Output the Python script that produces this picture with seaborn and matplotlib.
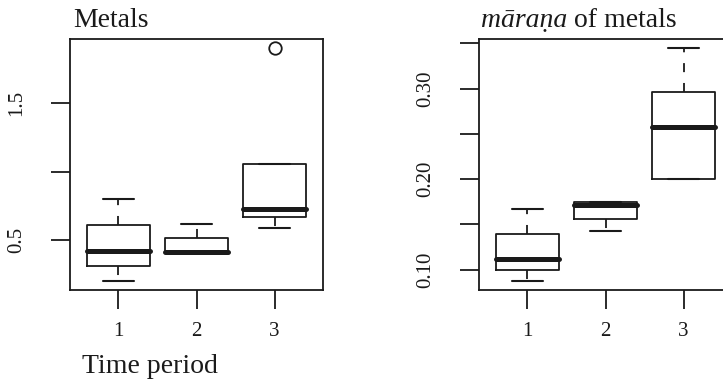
# metals_boxplots.py

import pandas as pd
import numpy as np
import matplotlib
matplotlib.use("Agg")
import matplotlib.pyplot as plt
import seaborn as sns

# Values per time period
periods = ['1', '2', '3']
metals_p1 = [0.201, 0.309, 0.419, 0.608, 0.799]
metals_p2 = [0.410, 0.410, 0.410, 0.515, 0.618]
metals_p3 = [0.588, 0.667, 0.667, 0.730, 0.730, 1.059, 1.059, 1.059, 1.904]
marana_p1 = [0.0879, 0.0996, 0.1114, 0.139, 0.167]
marana_p2 = [0.143, 0.156, 0.1717, 0.1747, 0.175]
marana_p3 = [0.200, 0.200, 0.2574, 0.2967, 0.3445]

metals_ticks = [0.5, 1.0, 1.5]
metals_ticklabels = ['0.5', '', '1.5']
marana_ticks = [0.10, 0.15, 0.20, 0.25, 0.30, 0.35]
marana_ticklabels = ['0.10', '', '0.20', '', '0.30', '']


def long_df(groups):
    rows = []
    for p, vals in zip(periods, groups):
        for v in vals:
            rows.append({'period': p, 'value': v})
    return pd.DataFrame(rows)


metals_df = long_df([metals_p1, metals_p2, metals_p3])
marana_df = long_df([marana_p1, marana_p2, marana_p3])

sns.set_style('ticks')
plt.rcParams['font.family'] = ['Liberation Serif', 'DejaVu Serif']

ink = '#1a1a1a'
lw = 1.3
fs_tick = 15
fs_title = 20

fig = plt.figure(figsize=(7.23, 3.84), dpi=100)
ax1 = fig.add_axes([70 / 723, 94 / 384, 253 / 723, 251 / 384])
ax2 = fig.add_axes([479 / 723, 94 / 384, 253 / 723, 251 / 384])


def draw_box(ax, df, ticks, ticklabels):
    sns.boxplot(data=df, x='period', y='value', order=periods, ax=ax,
                fill=False, color=ink, width=0.8, linewidth=lw,
                whiskerprops=dict(linestyle=(0, (5, 6)), color=ink),
                medianprops=dict(linewidth=3.6, solid_capstyle='round', color=ink),
                capprops=dict(linewidth=1.5, color=ink),
                boxprops=dict(color=ink),
                flierprops=dict(marker='o', markersize=9, markerfacecolor='none',
                                markeredgecolor=ink, markeredgewidth=1.3))
    # R-style limits: 4% padding around the data range
    lo, hi = df['value'].min(), df['value'].max()
    pad = 0.04 * (hi - lo)
    ax.set_ylim(lo - pad, hi + pad)
    ax.set_xlim(-0.62, 2.62)
    ax.set_yticks(ticks)
    ax.set_yticklabels(ticklabels, rotation=90, va='center')
    ax.set_xticks(range(len(periods)))
    ax.set_xticklabels(periods)
    ax.set_xlabel('')
    ax.set_ylabel('')
    ax.tick_params(axis='both', length=13.7, width=lw, color=ink,
                   labelsize=fs_tick, labelcolor=ink)
    ax.tick_params(axis='y', pad=17.5)
    ax.tick_params(axis='x', pad=9)
    for s in ax.spines.values():
        s.set_linewidth(lw)
        s.set_color(ink)
        s.set_visible(True)
    ax.grid(False)


draw_box(ax1, metals_df, metals_ticks, metals_ticklabels)
draw_box(ax2, marana_df, marana_ticks, marana_ticklabels)

# Titles
ax1.text(0.012, 1.049, 'Metals', transform=ax1.transAxes, fontsize=fs_title,
         va='baseline', ha='left', color=ink)
t = ax2.text(0.008, 1.049, 'māraṇa', transform=ax2.transAxes, fontsize=fs_title,
             style='italic', va='baseline', ha='left', color=ink)
ax2.annotate(' of metals', xy=(1, 1.049), xycoords=(t, 'axes fraction'),
             fontsize=fs_title, va='baseline', ha='left', color=ink)

# X label, left-aligned under the first panel
ax1.set_xlabel('Time period', fontsize=fs_title, color=ink)
ax1.xaxis.set_label_coords(0.047, -0.331)
ax1.xaxis.label.set_ha('left')
ax1.xaxis.label.set_va('baseline')

plt.savefig('out.png', dpi=100)
